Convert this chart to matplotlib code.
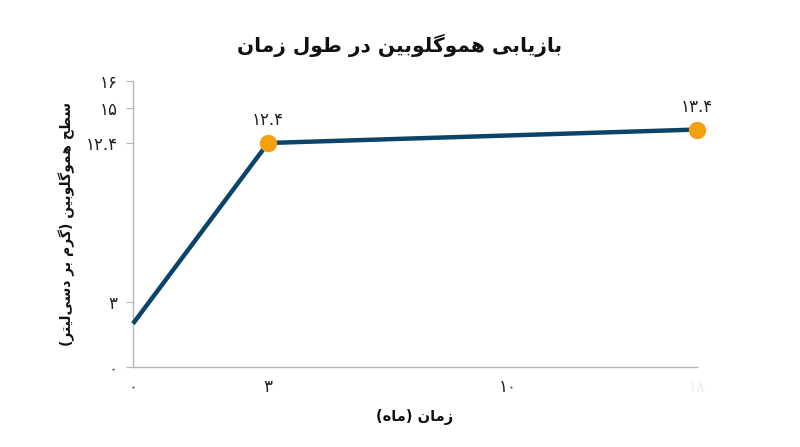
import numpy as np
import matplotlib
matplotlib.use("Agg")
import matplotlib.pyplot as plt

# ---------------- data ----------------
months = [0, 3, 18]
hemoglobin = [2.0, 12.4, 13.4]
point_labels = ["", "۱۲.۴", "۱۳.۴"]

x_ticks = [0, 3, 10, 18]
x_tick_labels = ["۰", "۳", "۱۰", "۱۸"]
y_ticks = [0, 3, 12.4, 15, 16]
y_tick_labels = ["۰", "۳", "۱۲.۴", "۱۵", "۱۶"]

title = "بازیابی هموگلوبین در طول زمان"
x_label = "زمان (ماه)"
y_label = "سطح هموگلوبین (گرم بر دسی‌لیتر)"

# uneven axis spacing as drawn in the original (layout)
x_pos = [0, 135, 375, 564]
y_pos = [0, 65, 224, 259, 286]

# ------------- minimal Persian shaping -------------
FORMS = {  # iso, fin, ini, med
    "ا": ("\uFE8D", "\uFE8E", None, None),
    "ب": ("\uFE8F", "\uFE90", "\uFE91", "\uFE92"),
    "ت": ("\uFE95", "\uFE96", "\uFE97", "\uFE98"),
    "ح": ("\uFEA1", "\uFEA2", "\uFEA3", "\uFEA4"),
    "د": ("\uFEA9", "\uFEAA", None, None),
    "ر": ("\uFEAD", "\uFEAE", None, None),
    "ز": ("\uFEAF", "\uFEB0", None, None),
    "س": ("\uFEB1", "\uFEB2", "\uFEB3", "\uFEB4"),
    "ط": ("\uFEC1", "\uFEC2", "\uFEC3", "\uFEC4"),
    "ل": ("\uFEDD", "\uFEDE", "\uFEDF", "\uFEE0"),
    "م": ("\uFEE1", "\uFEE2", "\uFEE3", "\uFEE4"),
    "ن": ("\uFEE5", "\uFEE6", "\uFEE7", "\uFEE8"),
    "ه": ("\uFEE9", "\uFEEA", "\uFEEB", "\uFEEC"),
    "و": ("\uFEED", "\uFEEE", None, None),
    "ی": ("\uFBFC", "\uFBFD", "\uFBFE", "\uFBFF"),
    "گ": ("\uFB92", "\uFB93", "\uFB94", "\uFB95"),
}


def shape(text):
    chars = list(text)
    out = []
    for i, c in enumerate(chars):
        if c not in FORMS:
            out.append(c)
            continue
        prev = chars[i - 1] if i > 0 else None
        nxt = chars[i + 1] if i + 1 < len(chars) else None
        join_prev = prev in FORMS and FORMS[prev][2] is not None
        join_next = nxt in FORMS and FORMS[c][2] is not None
        iso, fin, ini, med = FORMS[c]
        if join_prev and join_next:
            out.append(med)
        elif join_prev:
            out.append(fin)
        elif join_next:
            out.append(ini)
        else:
            out.append(iso)
    out = [c for c in out if c != "\u200c"]
    mirror = {"(": ")", ")": "("}
    return "".join(mirror.get(c, c) for c in reversed(out))


# ------------- scales -------------
def fx(v):
    return np.interp(v, x_ticks, x_pos)


def ifx(v):
    return np.interp(v, x_pos, x_ticks)


def fy(v):
    return np.interp(v, y_ticks, y_pos)


def ify(v):
    return np.interp(v, y_pos, y_ticks)


plt.rcParams["font.family"] = ["DejaVu Sans"]

fig = plt.figure(figsize=(8, 4.47), dpi=100)
ax = fig.add_axes([133 / 800, 80 / 447, 564 / 800, 286 / 447])
ax.set_xscale("function", functions=(fx, ifx))
ax.set_yscale("function", functions=(fy, ify))
ax.set_xlim(0, 18)
ax.set_ylim(0, 16)

line_color = "#0b4468"
marker_color = "#f4a00f"
ax.plot(months, hemoglobin, color=line_color, lw=3.2, solid_capstyle="butt",
        zorder=3, clip_on=False)
ax.plot(months[1:], hemoglobin[1:], "o", color=marker_color, ms=11.5,
        zorder=4, clip_on=False)
for xv, yv, lab in zip(months, hemoglobin, point_labels):
    if lab:
        ax.annotate(lab, (xv, yv), xytext=(0, 10), textcoords="offset points",
                    ha="center", va="bottom", fontsize=12, color="#222222")

for s in ["top", "right"]:
    ax.spines[s].set_visible(False)
for s in ["left", "bottom"]:
    ax.spines[s].set_color("#b5b5b5")
    ax.spines[s].set_linewidth(1.0)

ax.set_xticks(x_ticks)
ax.set_xticklabels(x_tick_labels, fontsize=12, color="#222222")
for t in ax.get_xticklabels()[-1:]:
    t.set_color("#eeeeee")
ax.set_yticks(y_ticks)
ax.set_yticklabels(y_tick_labels, fontsize=12, color="#222222")
ax.tick_params(axis="x", length=0, pad=8)
ax.tick_params(axis="y", length=5, color="#b5b5b5", pad=6)
ax.minorticks_off()

ax.set_xlabel(shape(x_label), fontsize=10.5, fontweight="bold", labelpad=9,
              color="#111111")
ax.set_ylabel(shape(y_label), fontsize=10, fontweight="bold", labelpad=8,
              color="#111111")
fig.text(0.5, 1 - 45 / 447, shape(title), ha="center", va="center",
         fontsize=14.5, fontweight="bold", color="#111111")

fig.savefig("out.png", dpi=100)
